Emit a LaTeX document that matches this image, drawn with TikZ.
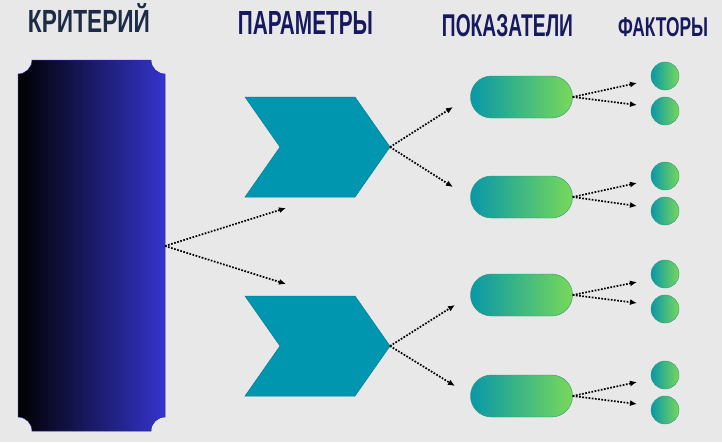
\documentclass[tikz,border=0pt]{standalone}
\usepackage{fontspec}
\setmainfont{Liberation Sans}
\usetikzlibrary{arrows.meta}
\definecolor{bg}{HTML}{E8E8E8}
\definecolor{slate}{HTML}{1D2B47}
\definecolor{navy}{HTML}{17195F}
\definecolor{critR}{HTML}{3434CC}
\definecolor{chevteal}{HTML}{0096B0}
\definecolor{pillL}{HTML}{0898A8}
\definecolor{pillR}{HTML}{78D85A}
\newcommand{\heading}[3]{\resizebox{#1}{#2}{\bfseries #3}}
\begin{document}
\begin{tikzpicture}[x=1pt,y=-1pt,
  title/.style={anchor=south, inner sep=0pt, text=navy},
  link/.style={line width=1.7pt, dash pattern=on 1.7pt off 1.5pt, -{Latex[length=7pt,width=6pt]}},
  chev/.style={fill=chevteal, draw=chevteal!85!black, line width=0.5pt},
  pill/.style={rectangle, rounded corners=20.9pt, minimum width=102pt, minimum height=42pt, inner sep=0pt, left color=pillL, right color=pillR, draw=pillL!60!pillR!85!black, line width=0.4pt},
  dot/.style={circle, minimum size=28pt, inner sep=0pt, left color=pillL, right color=pillR, draw=pillL!60!pillR!85!black, line width=0.4pt}]
  \useasboundingbox[fill=bg] (0,0) rectangle (722,442);
  \node[title, text=slate] (critTitle) at (89,33) {\heading{122pt}{29pt}{КРИТЕРИЙ}};
  \node[title] (paramTitle) at (305.5,35) {\heading{135pt}{23pt}{ПАРАМЕТРЫ}};
  \node[title] (indTitle) at (507.5,37) {\heading{131pt}{22pt}{ПОКАЗАТЕЛИ}};
  \node[title] (factTitle) at (663,37) {\heading{90pt}{19pt}{ФАКТОРЫ}};
  \shade[left color=black, right color=critR, draw=critR!80!black, line width=0.5pt]
    (32,60) -- (151,60) arc[start angle=180,end angle=90,radius=14]
    -- (165,417) arc[start angle=270,end angle=180,radius=14]
    -- (32,431) arc[start angle=0,end angle=-90,radius=14]
    -- (18,74) arc[start angle=90,end angle=0,radius=14] -- cycle;
  \coordinate (crit) at (165,246);
  \draw[chev] (245,97) -- (355,97) -- (390,147) -- (355,197) -- (245,197) -- (280,147) -- cycle;
  \draw[chev] (245,296) -- (355,296) -- (390,346) -- (355,396) -- (245,396) -- (280,346) -- cycle;
  \coordinate (tip1) at (390,147);
  \coordinate (tip2) at (390,346);
  \coordinate (c1) at (286,208);
  \coordinate (c2) at (286,284);
  \draw[link] (crit) -- (c1);
  \draw[link] (crit) -- (c2);
  \node[pill] (ind1) at (521.5,97) {};
  \node[pill] (ind2) at (521.5,197) {};
  \node[pill] (ind3) at (521.5,295) {};
  \node[pill] (ind4) at (521.5,396) {};
  \coordinate (p1) at (453,107);
  \coordinate (p2) at (453,187);
  \coordinate (p3) at (455,305);
  \coordinate (p4) at (455,386);
  \draw[link] (tip1) -- (p1);
  \draw[link] (tip1) -- (p2);
  \draw[link] (tip2) -- (p3);
  \draw[link] (tip2) -- (p4);
  \node[dot] (f1) at (665,76) {};
  \node[dot] (f2) at (665,111) {};
  \node[dot] (f3) at (665,176) {};
  \node[dot] (f4) at (665,211) {};
  \node[dot] (f5) at (665,274) {};
  \node[dot] (f6) at (665,309) {};
  \node[dot] (f7) at (665,375) {};
  \node[dot] (f8) at (665,410) {};
  \coordinate (e1) at (637,83);
  \coordinate (e2) at (637,105);
  \coordinate (e3) at (637,183);
  \coordinate (e4) at (637,206);
  \coordinate (e5) at (637,282);
  \coordinate (e6) at (637,303);
  \coordinate (e7) at (637,382);
  \coordinate (e8) at (637,404);
  \draw[link] (ind1.east) -- (e1);
  \draw[link] (ind1.east) -- (e2);
  \draw[link] (ind2.east) -- (e3);
  \draw[link] (ind2.east) -- (e4);
  \draw[link] (ind3.east) -- (e5);
  \draw[link] (ind3.east) -- (e6);
  \draw[link] (ind4.east) -- (e7);
  \draw[link] (ind4.east) -- (e8);
\end{tikzpicture}
\end{document}
